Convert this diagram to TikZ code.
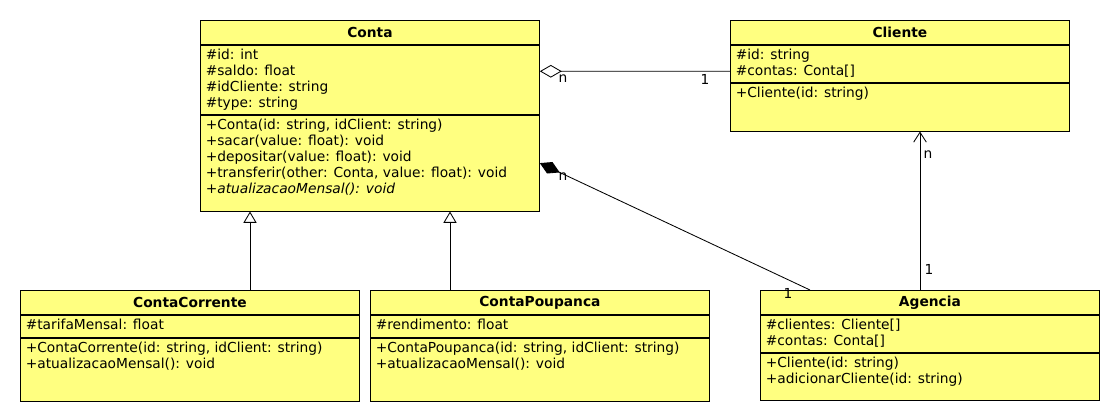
\documentclass[tikz,border=0pt]{standalone}
\usepackage{fontspec}
\setmainfont{DejaVu Sans}
\usetikzlibrary{positioning,arrows.meta}
\definecolor{umlyellow}{HTML}{FFFF80}
\newcommand{\pxu}{0.025cm}
\newcommand{\umlfont}{\fontsize{9.8pt}{11.4pt}\selectfont}

\begin{document}
\begin{tikzpicture}[x=0.025cm, y=-0.025cm, line width=0.6pt,
    classtitle/.style={draw, fill=umlyellow, minimum width=339*\pxu, minimum height=24*\pxu, inner sep=0pt, font=\umlfont\bfseries},
    compart/.style={draw, fill=umlyellow, minimum width=339*\pxu, inner sep=0pt},
    members/.style={anchor=north west, align=left, inner xsep=3.8pt, inner ysep=2.6pt, font=\umlfont},
    mult/.style={inner sep=0pt, font=\umlfont},
    gen/.style={-{Triangle[open, width=9.3pt, length=8pt]}},
    assoc/.style={-{Straight Barb[length=7pt, width=9pt]}},
    agg/.style={{Diamond[open, length=15.6pt, width=9pt]}-},
    comp/.style={{Diamond[length=15.6pt, width=9pt]}-}]
    \useasboundingbox (0,0) rectangle (1120,420);

    \node[classtitle, anchor=north west] (conta) at (200,20) {Conta};
    \node[compart, minimum height=69*\pxu, below=0pt of conta] (conta-attr) {};
    \node[compart, minimum height=96*\pxu, below=0pt of conta-attr] (conta-ops) {};
    \node[members] (conta-attr-txt) at (conta-attr.north west) {\#id: int\\\#saldo: float\\\#idCliente: string\\\#type: string};
    \node[members] (conta-ops-txt) at (conta-ops.north west) {+Conta(id: string, idClient: string)\\+sacar(value: float): void\\+depositar(value: float): void\\+transferir(other: Conta, value: float): void\\\itshape +atualizacaoMensal(): void};

    \node[classtitle, anchor=north west] (cliente) at (730,20) {Cliente};
    \node[compart, minimum height=37*\pxu, below=0pt of cliente] (cliente-attr) {};
    \node[compart, minimum height=48*\pxu, below=0pt of cliente-attr] (cliente-ops) {};
    \node[members] (cliente-attr-txt) at (cliente-attr.north west) {\#id: string\\\#contas: Conta[]};
    \node[members] (cliente-ops-txt) at (cliente-ops.north west) {+Cliente(id: string)};

    \node[classtitle, anchor=north west] (cc) at (20,290) {ContaCorrente};
    \node[compart, minimum height=22*\pxu, below=0pt of cc] (cc-attr) {};
    \node[compart, minimum height=63*\pxu, below=0pt of cc-attr] (cc-ops) {};
    \node[members] (cc-attr-txt) at (cc-attr.north west) {\#tarifaMensal: float};
    \node[members] (cc-ops-txt) at (cc-ops.north west) {+ContaCorrente(id: string, idClient: string)\\+atualizacaoMensal(): void};

    \node[classtitle, anchor=north west] (cp) at (370,290) {ContaPoupanca};
    \node[compart, minimum height=22*\pxu, below=0pt of cp] (cp-attr) {};
    \node[compart, minimum height=63*\pxu, below=0pt of cp-attr] (cp-ops) {};
    \node[members] (cp-attr-txt) at (cp-attr.north west) {\#rendimento: float};
    \node[members] (cp-ops-txt) at (cp-ops.north west) {+ContaPoupanca(id: string, idClient: string)\\+atualizacaoMensal(): void};

    \node[classtitle, anchor=north west] (agencia) at (760,290) {Agencia};
    \node[compart, minimum height=37*\pxu, below=0pt of agencia] (agencia-attr) {};
    \node[compart, minimum height=47*\pxu, below=0pt of agencia-attr] (agencia-ops) {};
    \node[members] (agencia-attr-txt) at (agencia-attr.north west) {\#clientes: Cliente[]\\\#contas: Conta[]};
    \node[members] (agencia-ops-txt) at (agencia-ops.north west) {+Cliente(id: string)\\+adicionarCliente(id: string)};

    \draw[gen] ([xshift=230*\pxu]cc.north west) -- ([xshift=50*\pxu]conta-ops.south west);
    \draw[gen] ([xshift=80*\pxu]cp.north west) -- ([xshift=250*\pxu]conta-ops.south west);
    \draw[agg] ([yshift=8.5*\pxu]conta-attr.east) -- ([yshift=-7.5*\pxu]cliente-attr.west);
    \draw[comp] (conta-ops.east) -- ([xshift=50*\pxu]agencia.north west);
    \draw[assoc] ([xshift=160*\pxu]agencia.north west) -- ([xshift=190*\pxu]cliente-ops.south west);

    \node[mult] (agg-n) at (563,79) {n};
    \node[mult] (agg-1) at (705,79) {1};
    \node[mult] (comp-n) at (563,177) {n};
    \node[mult] (comp-1) at (788,293) {1};
    \node[mult] (assoc-n) at (928,155) {n};
    \node[mult] (assoc-1) at (929,269) {1};
\end{tikzpicture}
\end{document}
